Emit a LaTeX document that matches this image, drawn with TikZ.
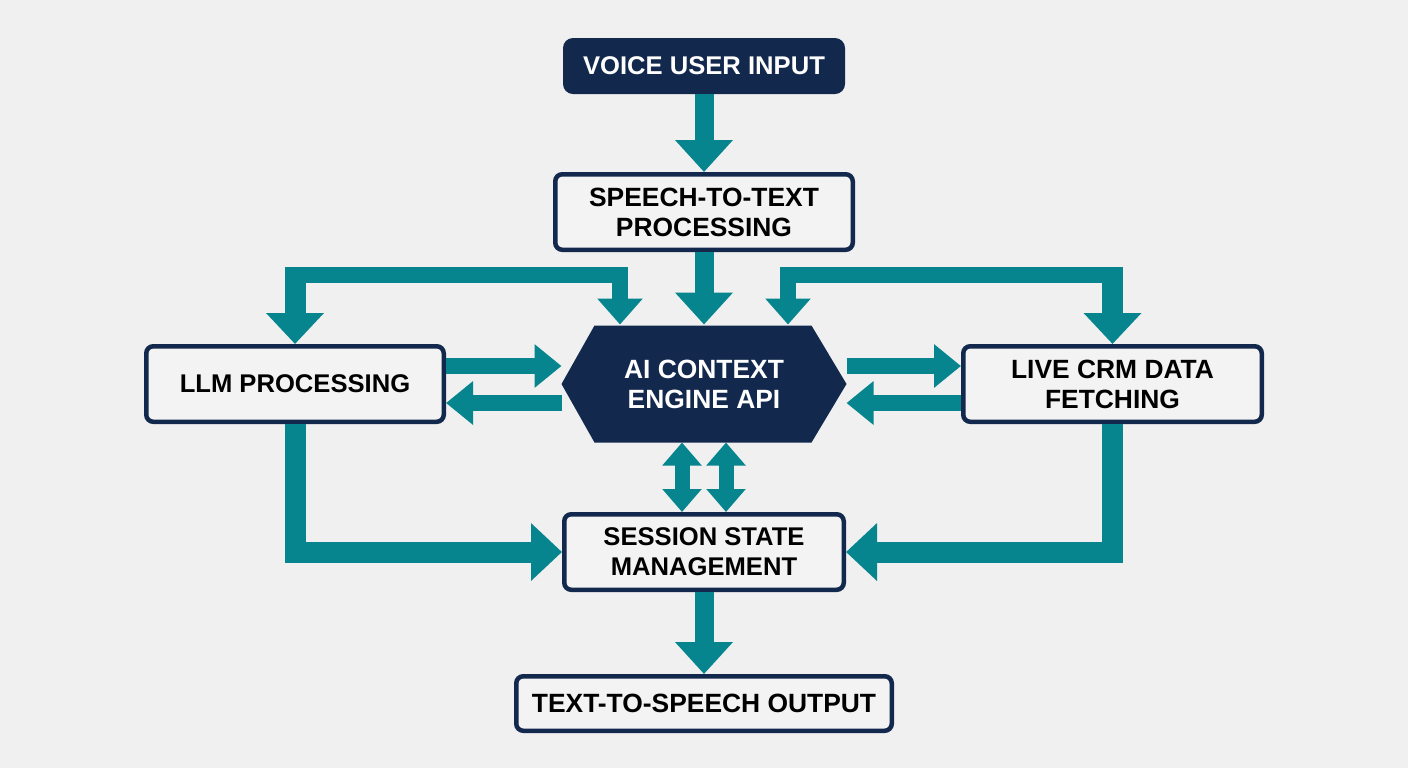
\documentclass[tikz,border=0pt]{standalone}
\usepackage{fontspec}
\setmainfont{Liberation Sans}
\usetikzlibrary{arrows.meta,calc}
\definecolor{navy}{HTML}{12284C}
\definecolor{teal2}{HTML}{07858F}
\definecolor{bgc}{HTML}{F0F0F0}
\definecolor{boxc}{HTML}{F3F3F4}
\tikzset{
  lbl/.style={font=\fontsize{13.2}{15}\selectfont\bfseries,align=center,inner sep=0pt,outer sep=0pt,anchor=center},
  lblsmall/.style={font=\fontsize{12.8}{15}\selectfont\bfseries},
  whitebox/.style={lbl,draw=navy,fill=boxc,line width=2.25pt,rounded corners=3.5pt,text=black,outer sep=1.125pt},
  navybox/.style={lbl,fill=navy,rounded corners=5pt,text=white},
  hexa/.style={lbl,text=white,minimum width=142.5pt,minimum height=58.5pt,
    path picture={\fill[navy]
      (path picture bounding box.west)
      -- ([xshift=16.5pt]path picture bounding box.north west)
      -- ([xshift=-17.5pt]path picture bounding box.north east)
      -- (path picture bounding box.east)
      -- ([xshift=-17.5pt]path picture bounding box.south east)
      -- ([xshift=16.5pt]path picture bounding box.south west)
      -- cycle;}},
  flowmain/.style={draw=teal2,line width=9.5pt,-{Triangle[length=16pt,width=28pt,fill=teal2]}},
  flowelbow/.style={draw=teal2,line width=10.5pt,miter limit=10,-{Triangle[length=15.5pt,width=28pt,fill=teal2]}},
  flowthin/.style={draw=teal2,line width=8pt,-{Triangle[length=13pt,width=22pt,fill=teal2]}},
  flowside/.style={draw=teal2,line width=7.75pt,-{Triangle[length=13.5pt,width=21pt,fill=teal2]}},
  flowboth/.style={draw=teal2,line width=7.5pt,{Triangle[length=11.5pt,width=19pt,fill=teal2]}-{Triangle[length=11.5pt,width=19pt,fill=teal2]}},
}
\begin{document}
\begin{tikzpicture}[x=0.5pt,y=-0.5pt]
\useasboundingbox (0,0) rectangle (1408,768);
\fill[bgc] (0,0) rectangle (1408,768);
% nodes
\node[navybox,lblsmall,minimum width=141pt,minimum height=28pt] (voice) at (704,66) {VOICE USER INPUT};
\node[whitebox,minimum width=148.75pt,minimum height=37.75pt] (stt) at (704,212) {SPEECH-TO-TEXT\\PROCESSING};
\node[whitebox,lblsmall,minimum width=148.75pt,minimum height=37.75pt] (llm) at (295,384) {LLM PROCESSING};
\node[whitebox,minimum width=149.25pt,minimum height=37.75pt] (crm) at (1112.5,384) {LIVE CRM DATA\\FETCHING};
\node[hexa] (hex) at (704,384) {AI CONTEXT\\ENGINE API};
\node[whitebox,lblsmall,minimum width=139.75pt,minimum height=37.75pt] (session) at (704,552) {SESSION STATE\\MANAGEMENT};
\node[whitebox,minimum width=187.75pt,minimum height=27.25pt] (tts) at (704,703.5) {TEXT-TO-SPEECH OUTPUT};
% free corners of the two top loops
\coordinate (ltop) at (295,275);
\coordinate (rtop) at (1112.5,275);
% straight flows
\draw[flowmain] (voice.south) -- (stt.north);
\draw[flowmain] (stt.south) -- ([yshift=0.5pt]hex.north);
\draw[flowmain] (session.south) -- (tts.north);
% top loops
\draw[draw=teal2,line width=10.5pt,-{Triangle[length=15.5pt,width=28pt,fill=teal2]}] ([yshift=4pt]ltop) -- (llm.north);
\draw[flowthin] (ltop) -| ([xshift=-42pt,yshift=0.5pt]hex.north);
\draw[draw=teal2,line width=10.5pt,-{Triangle[length=15.5pt,width=28pt,fill=teal2]}] ([yshift=4pt]rtop) -- (crm.north);
\draw[flowthin] (rtop) -| ([xshift=42pt,yshift=0.5pt]hex.north);
% side flows
\draw[flowside] ([yshift=9pt]llm.east) -- ([yshift=9pt]hex.west);
\draw[flowside] ([yshift=-9.5pt]hex.west) -- ([yshift=-9.5pt]llm.east);
\draw[flowside] ([yshift=9pt]hex.east) -- ([yshift=9pt]crm.west);
\draw[flowside] ([yshift=-9.5pt]crm.west) -- ([yshift=-9.5pt]hex.east);
% double arrows
\draw[flowboth] ([xshift=-11pt]hex.south) -- ([xshift=-11pt]session.north);
\draw[flowboth] ([xshift=11pt]hex.south) -- ([xshift=11pt]session.north);
% lower elbows
\draw[flowelbow] (llm.south) |- (session.west);
\draw[flowelbow] (crm.south) |- (session.east);
\end{tikzpicture}
\end{document}
